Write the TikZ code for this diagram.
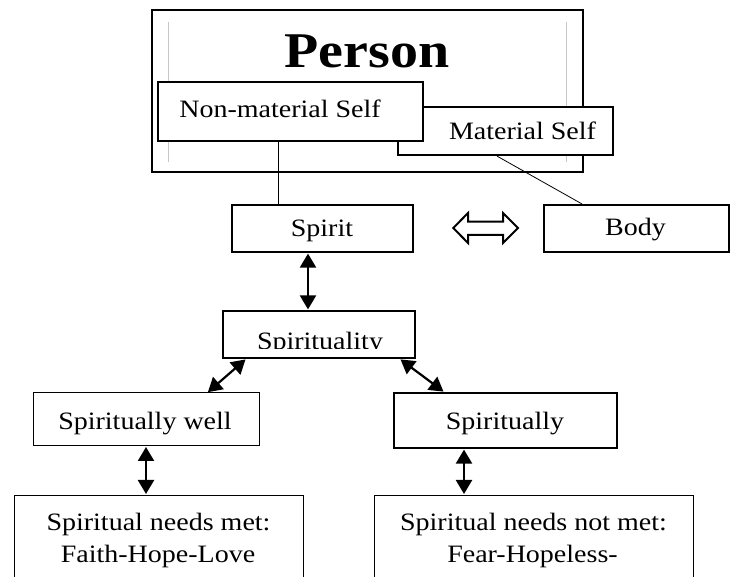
\documentclass[tikz,border=0pt]{standalone}
\usepackage{fontspec}
\setmainfont{Liberation Serif}[FakeStretch=1.12]
\usetikzlibrary{arrows.meta}
\tikzset{
  thickbox/.style={draw, line width=2.2pt, rectangle, inner sep=0pt},
  thinbox/.style={draw, line width=1pt, rectangle, inner sep=0pt},
  lbl/.style={anchor=base, inner sep=0pt, font=\fontsize{25}{30}\selectfont},
  link/.style={line width=0.8pt},
  biarrow/.style={line width=2.2pt, {Triangle[length=14pt,width=16pt]}-{Triangle[length=14pt,width=16pt]}, shorten <=0.5pt, shorten >=0.5pt}
}
\begin{document}
\begin{tikzpicture}[x=1pt,y=-1pt]
\clip (0,0) rectangle (737,577);
\fill[white] (0,0) rectangle (737,577);
% Person box
\node[thickbox, minimum width=431pt, minimum height=162pt] (person) at (367.5,91) {};
\draw[gray!45, line width=0.8pt] (168,22) -- (168,162);
\draw[gray!45, line width=0.8pt] (566,22) -- (566,162);
\node[anchor=base, inner sep=0pt, font=\fontsize{50}{56}\selectfont\bfseries] (persontxt) at (366.7,68) {Person};
% Material / Non-material self
\node[thickbox, fill=white, minimum width=215pt, minimum height=48pt] (material) at (505.5,131) {};
\node[thickbox, fill=white, minimum width=265pt, minimum height=59pt] (nonmat) at (290.5,111.5) {};
\node[lbl] (nonmattxt) at (280,118) {Non-material Self};
\node[lbl] (materialtxt) at (522.5,140) {Material Self};
% Spirit / Body
\node[thickbox, minimum width=181pt, minimum height=47pt] (spirit) at (322.5,228.5) {};
\node[thickbox, minimum width=185pt, minimum height=47pt] (body) at (636.5,228.5) {};
\node[lbl] (spirittxt) at (322,237) {Spirit};
\node[lbl] (bodytxt) at (635.5,236) {Body};
% open double arrow
\draw[line width=2pt, line join=miter, fill=white]
  (453.3,228) -- (468,213) -- (468,221.7) -- (503,221.7) -- (503,213) -- (518,228)
  -- (503,243) -- (503,235) -- (468,235) -- (468,243) -- cycle;
% Spirituality
\node[thickbox, minimum width=192pt, minimum height=47pt] (spirituality) at (319,334.5) {};
\begin{scope}
\clip (224,312) rectangle (414,348.5);
\node[lbl] (spiritualitytxt) at (320,350) {Spirituality};
\end{scope}
% Spiritually well / Spiritually
\node[thinbox, minimum width=226pt, minimum height=53pt] (well) at (146,419.5) {};
\node[thickbox, minimum width=223pt, minimum height=55pt] (notwell) at (505.5,420.5) {};
\node[lbl] (welltxt) at (145,430) {Spiritually well};
\node[lbl] (notwelltxt) at (505,430) {Spiritually};
% needs
\node[thinbox, minimum width=289pt, minimum height=125pt] (met) at (158.5,557.5) {};
\node[thinbox, minimum width=319pt, minimum height=125pt] (notmet) at (533.5,557.5) {};
\node[lbl] (mettxt1) at (158.5,530) {Spiritual needs met:};
\node[lbl] (mettxt2) at (158,562) {Faith-Hope-Love};
\node[lbl] (notmettxt1) at (533.5,530) {Spiritual needs not met:};
\node[lbl] (notmettxt2) at (532.5,562) {Fear-Hopeless-};
% connectors
\draw[link] ([xshift=-12.5pt]nonmat.south) -- ([xshift=-44.5pt]spirit.north);
\draw[link] ([xshift=-8.5pt]material.south) -- ([xshift=39pt]body.north west);
\draw[biarrow] ([xshift=-14.5pt]spirit.south) -- ([xshift=-11pt]spirituality.north);
\draw[biarrow] ([xshift=24pt]spirituality.south west) -- ([xshift=-52pt]well.north east);
\draw[biarrow] ([xshift=-16pt]spirituality.south east) -- ([xshift=51pt]notwell.north west);
\draw[biarrow] (well.south) -- ([xshift=-12.5pt]met.north);
\draw[biarrow] ([xshift=-41.5pt]notwell.south) -- ([xshift=-69.5pt]notmet.north);
\end{tikzpicture}
\end{document}
